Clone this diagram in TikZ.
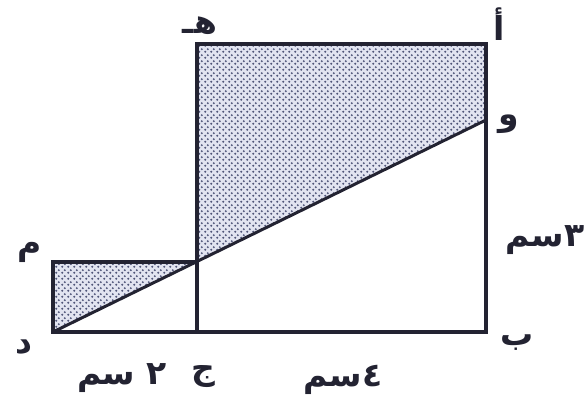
\documentclass[tikz,border=0pt]{standalone}
\usepackage{fontspec}
\usetikzlibrary{patterns.meta}
\TeXXeTstate=1
\newfontfamily\arabicfont[Script=Arabic]{DejaVu Sans}
\definecolor{ink}{RGB}{35,35,50}
\definecolor{shadebg}{RGB}{226,228,240}
\definecolor{dotc}{RGB}{80,85,120}
\tikzdeclarepattern{name=mydots, type=uncolored,
  bounding box={(0pt,0pt) and (5.5pt,5.5pt)}, tile size={(5.5pt,5.5pt)},
  code={\fill (1.375pt,1.375pt) circle (1.15pt); \fill (4.125pt,4.125pt) circle (1.15pt);}}
\begin{document}
\begin{tikzpicture}[x=1pt,y=-1pt,
  edge/.style={line width=4.5pt, draw=ink, line join=miter},
  diag/.style={line width=3pt, draw=ink},
  lbl/.style={font=\arabicfont\bfseries\fontsize{33}{38}\selectfont, text=ink, inner sep=0pt}]
\useasboundingbox (0,0) rectangle (587,411);
\fill[white] (0,0) rectangle (587,411);
\coordinate (A) at (486,44);
\coordinate (B) at (486,332);
\coordinate (J) at (197,332);
\coordinate (H) at (197,44);
\coordinate (D) at (53,332);
\coordinate (M) at (53,262);
\coordinate (K) at (197,262);
\coordinate (W) at (486,120);
% shaded regions
\fill[shadebg] (H) -- (A) -- (W) -- (K) -- cycle;
\fill[shadebg] (M) -- (K) -- (D) -- cycle;
\fill[pattern=mydots, pattern color=dotc] (H) -- (A) -- (W) -- (K) -- cycle;
\fill[pattern=mydots, pattern color=dotc] (M) -- (K) -- (D) -- cycle;
% outlines
\draw[edge] (H) -- (A) -- (B) -- (J) -- cycle;
\draw[edge] (J) -- (D) -- (M) -- (K);
\draw[diag] (D) -- (W);
% labels
\node[lbl] (lA) at (499,24) {\beginR أ\endR};
\node[lbl] (lH) at (200,26) {\beginR هـ\endR};
\node[lbl] (lW) at (509,124) {\beginR و\endR};
\node[lbl] (lM) at (30,252) {\beginR م\endR};
\node[lbl] (lD) at (24,347) {\beginR د\endR};
\node[lbl] (lB) at (517,343) {\beginR ب\endR};
\node[lbl] (lJ) at (203,377) {\beginR ج\endR};
\node[lbl] (l2) at (122,378) {\beginR ٢ سم\endR};
\node[lbl] (l4) at (343,380) {\beginR ٤سم\endR};
\node[lbl] (l3) at (545,240) {\beginR ٣سم\endR};
\end{tikzpicture}
\end{document}
